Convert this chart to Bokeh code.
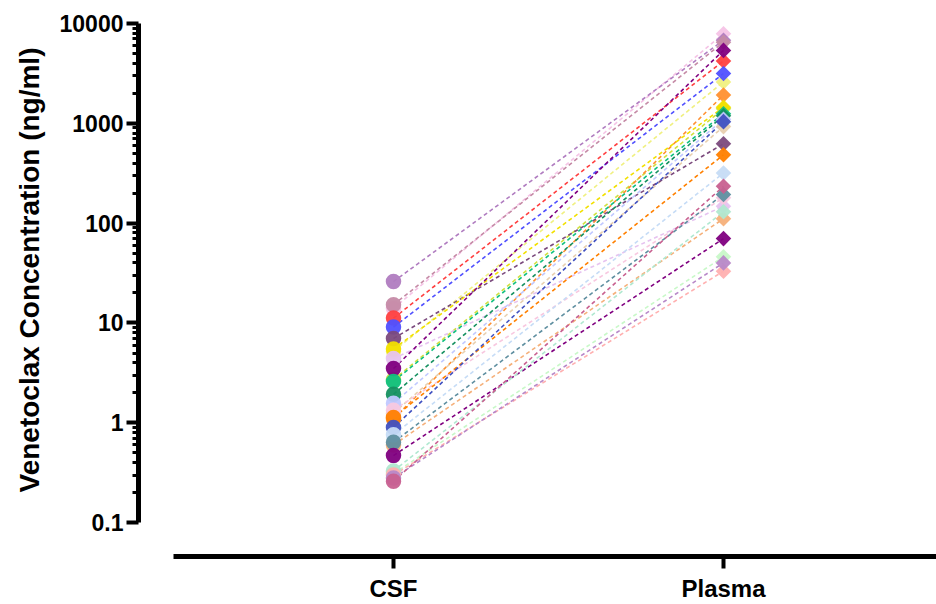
import numpy as np
from bokeh.plotting import figure
from bokeh.models import (Range1d, FixedTicker, CustomJSTickFormatter, Title,
                          ColumnDataSource)
from bokeh.embed import file_html
from bokeh.resources import INLINE

# ---- data ----
categories = ["CSF", "Plasma"]
csf_values = [5.2, 2.7, 1.10, 1.25, 0.60, 0.31, 14.0,
              26.0, 15.2, 11.2, 9.1, 7.0, 5.5, 4.4, 3.5, 2.6, 1.93, 1.57,
              1.34, 1.13, 0.90, 0.76, 0.64, 0.47, 0.33, 0.30, 0.28, 0.26]
plasma_values = [2600, 1400, 1920, 927, 111, 46, 7900,
                 6800, 6500, 4220, 3150, 624, 1450, 148, 5380, 1250, 1190,
                 1100, 180, 484, 1040, 318, 194, 70, 130, 33, 40, 234]
y_ticks = [0.1, 1, 10, 100, 1000, 10000]
y_title = "Venetoclax Concentration (ng/ml)"

# ---- styles ----
palette = ["#f0f080", "#d0e040", "#ff9030", "#e8d0b0", "#f5b07a", "#c8f8c8",
           "#f5c3e6",
           "#b07cc0", "#c58aa6", "#ff4040", "#5050ff", "#7b4a7d",
           "#f2e000", "#e6c3f0", "#800080", "#10c080", "#159060", "#c0c8ff",
           "#f8c8e0", "#ff8000", "#4050c0", "#c6dcf6", "#5f8fa0",
           "#800080", "#b0e8d0", "#ffb0b0", "#b888c8", "#c86090"]
FONT = "Liberation Sans"

n = len(csf_values)
x_csf = [categories.index("CSF") + 1] * n
x_pl = [categories.index("Plasma") + 1] * n
src = ColumnDataSource(dict(x0=x_csf, x1=x_pl, y0=csf_values, y1=plasma_values,
                            color=palette[:n]))

p = figure(width=936, height=604, y_axis_type="log",
           x_range=Range1d(0.2273, 2.6455), y_range=Range1d(0.0458, 10000),
           output_backend="svg", toolbar_location=None,
           min_border_left=138, min_border_top=23, min_border_right=0,
           min_border_bottom=45)
p.grid.visible = False
p.outline_line_color = None
p.background_fill_color = "white"

p.segment(x0="x0", y0="y0", x1="x1", y1="y1", source=src, line_color="color",
          line_width=1.6, line_dash="4 3")
p.scatter(x="x0", y="y0", source=src, marker="circle", size=15.5,
          fill_color="color", line_color=None, fill_alpha=0.95)
p.scatter(x="x1", y="y1", source=src, marker="square", angle=np.pi / 4, size=11,
          fill_color="color", line_color=None, fill_alpha=0.95)

# y axis
minor = [m * 10.0 ** k for k in range(-1, 4) for m in range(2, 10)]
ya = p.yaxis[0]
ya.ticker = FixedTicker(ticks=y_ticks, minor_ticks=minor)
ya.formatter = CustomJSTickFormatter(code="return tick.toString();")
ya.bounds = (y_ticks[0], y_ticks[-1])
ya.axis_line_width = 5
ya.major_tick_line_width = 4
ya.major_tick_out = 12
ya.major_tick_in = 0
ya.minor_tick_line_width = 3
ya.minor_tick_out = 6
ya.minor_tick_in = 0
ya.major_label_text_font = FONT
ya.major_label_text_font_style = "bold"
ya.major_label_text_font_size = "23px"
ya.major_label_text_color = "black"
ya.major_label_standoff = 3

# x axis
xa = p.xaxis[0]
xa.ticker = FixedTicker(ticks=[1, 2], minor_ticks=[])
xa.major_label_overrides = {i + 1: c for i, c in enumerate(categories)}
xa.bounds = (1 / 3, 2.6455)
xa.axis_line_width = 5
xa.major_tick_line_width = 4
xa.major_tick_out = 12
xa.major_tick_in = 0
xa.minor_tick_out = 0
xa.major_label_text_font = FONT
xa.major_label_text_font_style = "bold"
xa.major_label_text_font_size = "24px"
xa.major_label_text_color = "black"
xa.major_label_standoff = 6

p.add_layout(Title(text=y_title, align="left", offset=64,
                   vertical_align="middle", standoff=22,
                   text_font=FONT, text_font_style="bold",
                   text_font_size="28px", text_color="black"), "left")

open("out.html", "w").write(file_html(p, INLINE))
